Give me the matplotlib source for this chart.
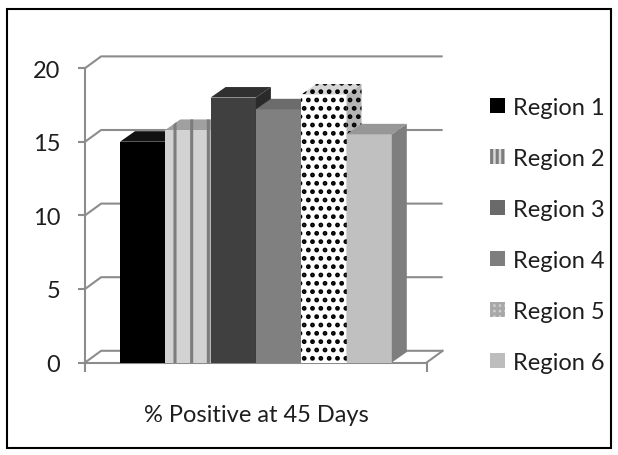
import matplotlib
matplotlib.use('Agg')
import matplotlib.pyplot as plt
from matplotlib.patches import Polygon, Patch, Rectangle

regions = ['Region 1', 'Region 2', 'Region 3', 'Region 4', 'Region 5', 'Region 6']
pct_positive = [15.0, 15.8, 18.0, 17.2, 18.2, 15.5]
category = '% Positive at 45 Days'
y_ticks = [0, 5, 10, 15, 20]

# (front, top, side, hatch, hatch colour) for each column
looks = [
    ('#000000', '#121212', '#262626', None, None),
    ('#d2d2d2', '#a0a0a0', '#8c8c8c', '|', '#7c7c7c'),
    ('#404040', '#303030', '#2a2a2a', None, None),
    ('#808080', '#6c6c6c', '#5c5c5c', None, None),
    ('#ffffff', '#d6d6d6', '#b4b4b4', '..', '#000000'),
    ('#c0c0c0', '#979797', '#7e7e7e', None, None),
]
legend_looks = [
    ('#000000', None, None),
    ('#d8d8d8', '|||', '#7c7c7c'),
    ('#6a6a6a', None, None),
    ('#7e7e7e', None, None),
    ('#d0d0d0', '+++', '#a8a8a8'),
    ('#bdbdbd', None, None),
]

plt.rcParams['font.family'] = ['Lato', 'DejaVu Sans']
plt.rcParams['hatch.linewidth'] = 2.2
TEXT = '#1e1e1e'
GRID = '#8c8c8c'
FS = 17

# page geometry in pixels
FIG_W, FIG_H = 618, 456
BAR_PX = 45.3      # width of one column
LEFT_PX = 120      # left edge of first column
BASE_PX = 363.5    # y of value 0 on the front plane
UNIT_PX = 14.72    # pixels per percent

fig = plt.figure(figsize=(FIG_W / 100, FIG_H / 100), dpi=100)
ax = fig.add_axes([0, 0, 1, 1])
ax.set_xlim(-LEFT_PX / BAR_PX, (FIG_W - LEFT_PX) / BAR_PX)
ax.set_ylim((BASE_PX - FIG_H) / UNIT_PX, BASE_PX / UNIT_PX)
ax.patch.set_visible(False)

floor_l, floor_r = -0.77, 6.77
wall_dx, wall_dy = 16 / BAR_PX, 11.7 / UNIT_PX
bar_dx, bar_dy = 15 / BAR_PX, 10.5 / UNIT_PX

# back wall gridlines with their slanted lead-ins, plus the floor
for v in y_ticks:
    ax.plot([floor_l, floor_l + wall_dx, floor_r + wall_dx],
            [v, v + wall_dy, v + wall_dy], color=GRID, lw=1.5, zorder=1,
            solid_capstyle='butt')
ax.plot([floor_r, floor_r + wall_dx], [0, wall_dy], color=GRID, lw=1.5, zorder=1)

# columns: front faces from ax.bar, top and side faces follow the same heights
xs = list(range(len(regions)))
bars = ax.bar(xs, pct_positive, width=1.0, align='edge', linewidth=0)
for i, (bar, h) in enumerate(zip(bars, pct_positive)):
    front, top, side, hatch, hcol = looks[i]
    z = 10 + i
    bar.set_facecolor(front)
    bar.set_zorder(z)
    if hatch:
        bar.set_hatch(hatch)
        bar.set_edgecolor(hcol)
    x0, x1 = i, i + 1
    top_face = Polygon([(x0, h), (x1, h), (x1 + bar_dx, h + bar_dy), (x0 + bar_dx, h + bar_dy)],
                       closed=True, facecolor=top, lw=0, zorder=z)
    side_face = Polygon([(x1, 0), (x1, h), (x1 + bar_dx, h + bar_dy), (x1 + bar_dx, bar_dy)],
                        closed=True, facecolor=side, lw=0, zorder=z)
    for p in (side_face, top_face):
        if hatch:
            p.set_hatch(hatch)
            p.set_edgecolor(hcol)
        ax.add_patch(p)

# axes lines
for s in ('top', 'right'):
    ax.spines[s].set_visible(False)
ax.spines['left'].set_position(('data', floor_l))
ax.spines['left'].set_bounds(0, 20)
ax.spines['bottom'].set_position(('data', 0))
ax.spines['bottom'].set_bounds(floor_l, floor_r)
for s in ('left', 'bottom'):
    ax.spines[s].set_color(GRID)
    ax.spines[s].set_linewidth(1.5)
    ax.spines[s].set_zorder(2)

ax.set_yticks(y_ticks)
ax.set_yticklabels([str(t) for t in y_ticks])
ax.tick_params(axis='y', direction='out', length=5, width=1.5, color=GRID,
               pad=13, labelsize=FS, labelcolor=TEXT)
ax.set_xticks([len(regions) / 2])
ax.set_xticklabels([category])
ax.set_xticks([floor_l, floor_r], minor=True)
ax.tick_params(axis='x', which='major', length=0, pad=30, labelsize=FS, labelcolor=TEXT)
ax.tick_params(axis='x', which='minor', direction='out', length=6.5, width=1.5, color=GRID)

handles = [Patch(facecolor=f, edgecolor=(hc if hc else f), hatch=h, lw=0, label=r)
           for (f, h, hc), r in zip(legend_looks, regions)]
fig.legend(handles=handles, loc='upper left', bbox_to_anchor=(490 / FIG_W, 1 - 98 / FIG_H),
           frameon=False, fontsize=FS, labelcolor=TEXT, handlelength=0.62,
           handleheight=0.62, handletextpad=0.35, labelspacing=1.27,
           borderpad=0, borderaxespad=0)

# outer frame of the chart area
fig.patches.append(Rectangle((7 / FIG_W, (FIG_H - 449) / FIG_H), 604 / FIG_W, 439 / FIG_H,
                             transform=fig.transFigure, fill=False, edgecolor='black',
                             lw=1.5, zorder=50))

fig.savefig('out.png', dpi=100, facecolor='white')
